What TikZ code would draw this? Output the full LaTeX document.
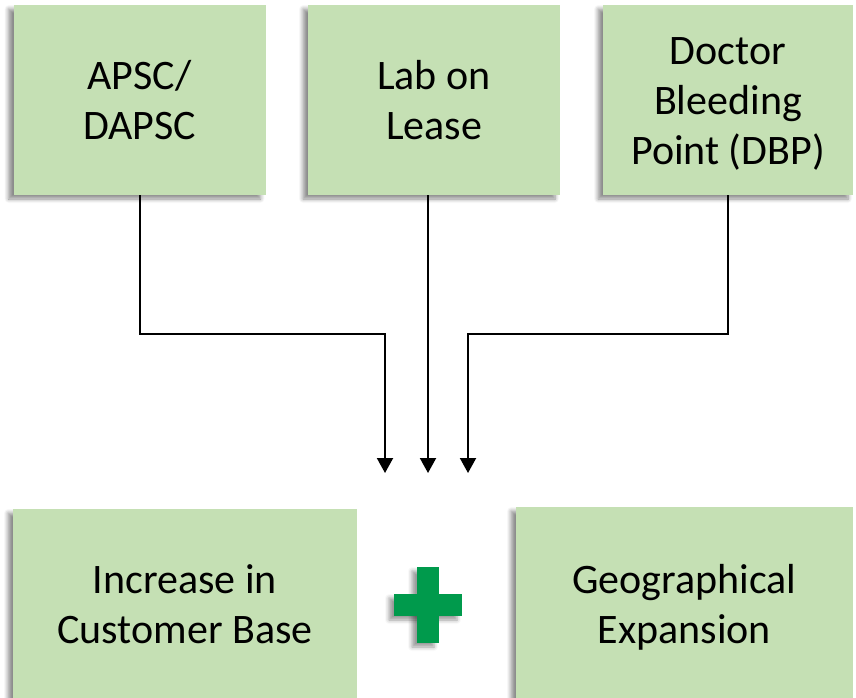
\documentclass[tikz,border=0pt]{standalone}
\usepackage{fontspec}
\setmainfont{Carlito}
\usetikzlibrary{arrows.meta,shadows.blur}
\definecolor{boxgreen}{RGB}{197,224,180}
\definecolor{plusgreen}{RGB}{0,154,76}
\tikzset{
  gbox/.style={rectangle, fill=boxgreen, inner sep=0pt,
    blur shadow={shadow xshift=-5pt, shadow yshift=-4pt, shadow blur steps=6, shadow blur radius=4pt, shadow opacity=45}},
  gtext/.style={inner sep=0pt, align=center, font=\fontsize{42}{50}\selectfont},
  conn/.style={line width=2pt, -{Triangle[width=16pt,length=15pt]}},
  plusbar/.style={fill=plusgreen, draw=none, rectangle, inner sep=0pt},
  plusshadow/.style={blur shadow={shadow xshift=-5pt, shadow yshift=-4pt, shadow blur radius=4pt, shadow opacity=40}}
}
\begin{document}
\begin{tikzpicture}[x=1pt,y=-1pt]
\useasboundingbox (0,0) rectangle (856,697);
\node[gbox, minimum width=252pt, minimum height=190pt] (b1) at (139.5,100) {};
\node[gbox, minimum width=252pt, minimum height=190pt] (b2) at (434,100) {};
\node[gbox, minimum width=250pt, minimum height=190pt] (b3) at (728,100) {};
\node[gbox, minimum width=344pt, minimum height=190pt] (b4) at (185,604) {};
\node[gbox, minimum width=337pt, minimum height=192pt] (b5) at (684.5,603) {};
\node[gtext] (t1b) at (b1) {APSC/\\DAPSC};
\node[gtext] (t2b) at (b2) {Lab on\\Lease};
\node[gtext, yshift=-4pt] (t3b) at (b3) {Doctor\\Bleeding\\Point (DBP)};
\node[gtext] (t4b) at (b4) {Increase in\\Customer Base};
\node[gtext, yshift=-4pt] (t5b) at (b5) {Geographical\\Expansion};
\coordinate (t1) at (385,473);
\coordinate (t2) at (428,473);
\coordinate (t3) at (468,473);
\draw[conn] (b1.south) -- (b1.south |- 0,334) -| (t1);
\draw[conn] (t2 |- b2.south) -- (t2);
\draw[conn] (b3.south) -- (b3.south |- 0,334) -| (t3);
% plus sign
\node[plusbar, plusshadow, minimum width=68pt, minimum height=22pt] (ph) at (428,605) {};
\node[plusbar, plusshadow, minimum width=22pt, minimum height=76pt] (pv) at (428,605) {};
\node[plusbar, minimum width=68pt, minimum height=22pt] (ph2) at (428,605) {};
\end{tikzpicture}
\end{document}
